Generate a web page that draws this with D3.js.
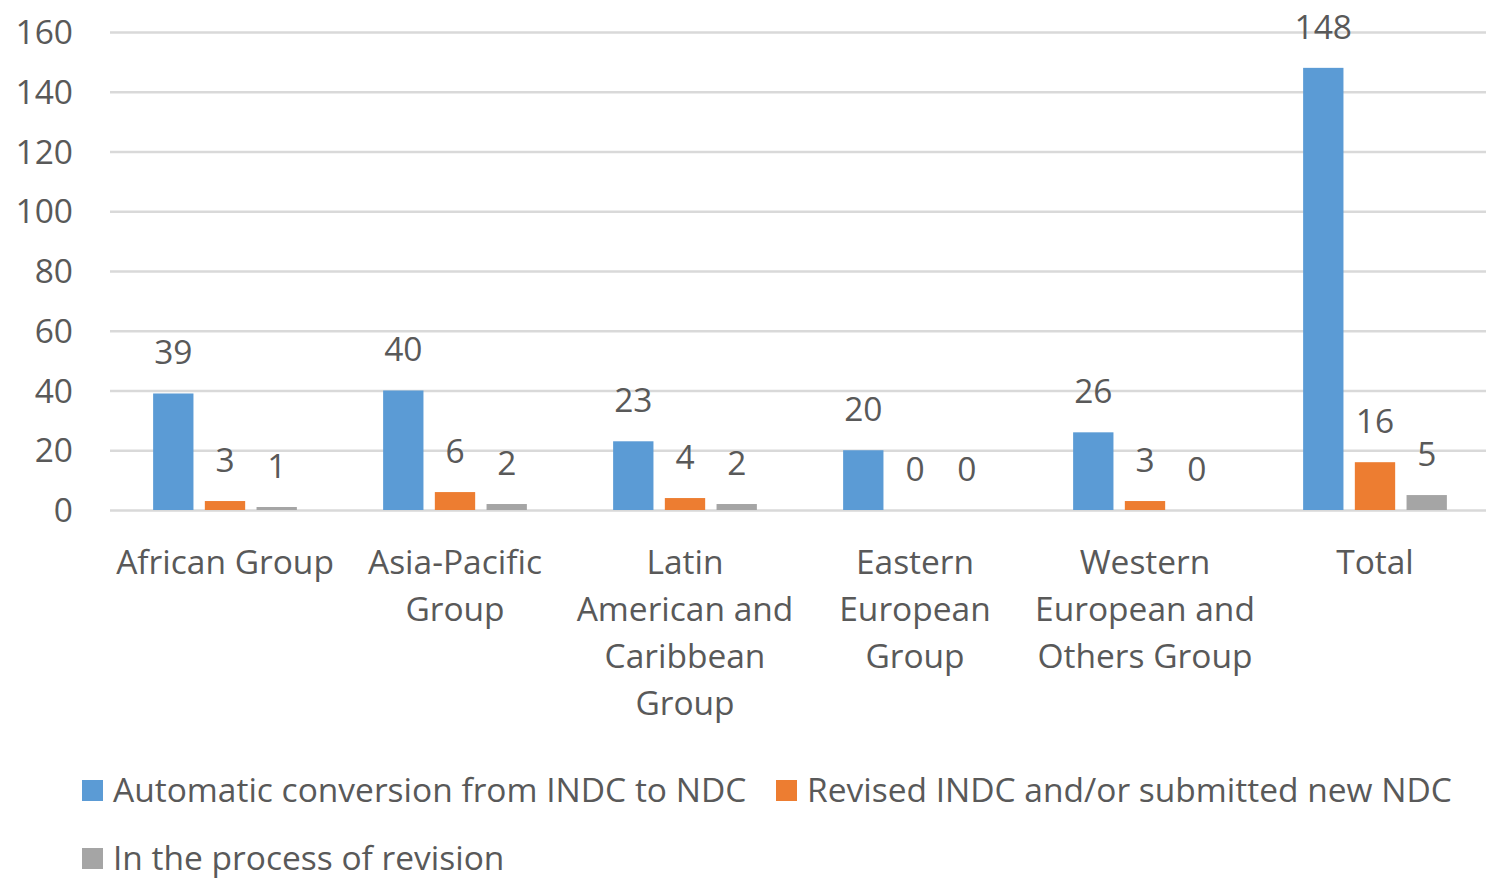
<!DOCTYPE html>
<html><head><meta charset="utf-8">
<script src="https://cdn.jsdelivr.net/npm/d3@7"></script>
<style>body{margin:0;background:#fff;} text{font-family:"Open Sans","Noto Sans",sans-serif;}</style>
</head><body>
<svg id="c" width="1486" height="881"></svg>
<script>
const categories = [["African Group"],["Asia-Pacific","Group"],["Latin","American and","Caribbean","Group"],["Eastern","European","Group"],["Western","European and","Others Group"],["Total"]];
const seriesNames = ["Automatic conversion from INDC to NDC","Revised INDC and/or submitted new NDC","In the process of revision"];
const automatic = [39,40,23,20,26,148];
const revised = [3,6,4,0,3,16];
const inRevision = [1,2,2,0,0,5];
const yTicks = [0,20,40,60,80,100,120,140,160];
const colors = ["#5B9BD5","#ED7D31","#A5A5A5"];

(function(){
const svg = d3.select("#c");
const mLeft = 110, mRight = 1490, mTop = 32, mBottom = 510;
const fs = 33.5;
const catKeys = categories.map((d,i)=>i);
const x0 = d3.scaleBand().domain(catKeys).range([mLeft,mRight]).paddingInner(0.375).paddingOuter(0.1875);
const x1 = d3.scaleBand().domain([0,1,2]).range([0,x0.bandwidth()]).paddingInner(0.22);
const y = d3.scaleLinear().domain([0,160]).range([mBottom,mTop]);
const textColor = "#595959";

const yAxis = d3.axisLeft(y).tickValues(yTicks).tickSize(-(mRight-mLeft)).tickFormat(d3.format("d"));
const g = svg.append("g").attr("transform",`translate(${mLeft},0)`).call(yAxis);
g.select(".domain").remove();
g.selectAll(".tick line").attr("stroke","#D9D9D9").attr("stroke-width",2.5);
g.selectAll(".tick text").attr("x",-37).attr("fill",textColor).attr("font-size",fs).attr("font-family",null).attr("dy","0.35em");

const series = [automatic, revised, inRevision];
const groups = svg.append("g").selectAll("g").data(catKeys).join("g")
  .attr("transform",d=>`translate(${x0(d)},0)`);
series.forEach((s,si)=>{
  groups.append("rect")
    .attr("x",x1(si)).attr("width",x1.bandwidth())
    .attr("y",d=>y(s[d])).attr("height",d=>mBottom-y(s[d]))
    .attr("fill",colors[si]);
  groups.append("text")
    .attr("x",x1(si)+x1.bandwidth()/2).attr("y",d=>y(s[d])-41)
    .attr("dy","0.35em").attr("text-anchor","middle")
    .attr("fill",textColor).attr("font-size",fs)
    .text(d=>s[d]);
});

const xAxisG = svg.append("g");
categories.forEach((lines,i)=>{
  const t = xAxisG.append("text").attr("text-anchor","middle").attr("fill",textColor).attr("font-size",fs);
  lines.forEach((ln,j)=>{
    t.append("tspan").attr("x",x0(i)+x0.bandwidth()/2).attr("y",562+j*47).attr("dy","0.35em").text(ln);
  });
});

const legendPos = [[82,790],[776,790],[82,858]];
seriesNames.forEach((n,i)=>{
  const [lx,ly] = legendPos[i];
  svg.append("rect").attr("x",lx).attr("y",ly-10).attr("width",21).attr("height",21).attr("fill",colors[i]);
  svg.append("text").attr("x",lx+31).attr("y",ly).attr("dy","0.35em").attr("fill",textColor).attr("font-size",fs).text(n);
});
})();
</script>
</body></html>
